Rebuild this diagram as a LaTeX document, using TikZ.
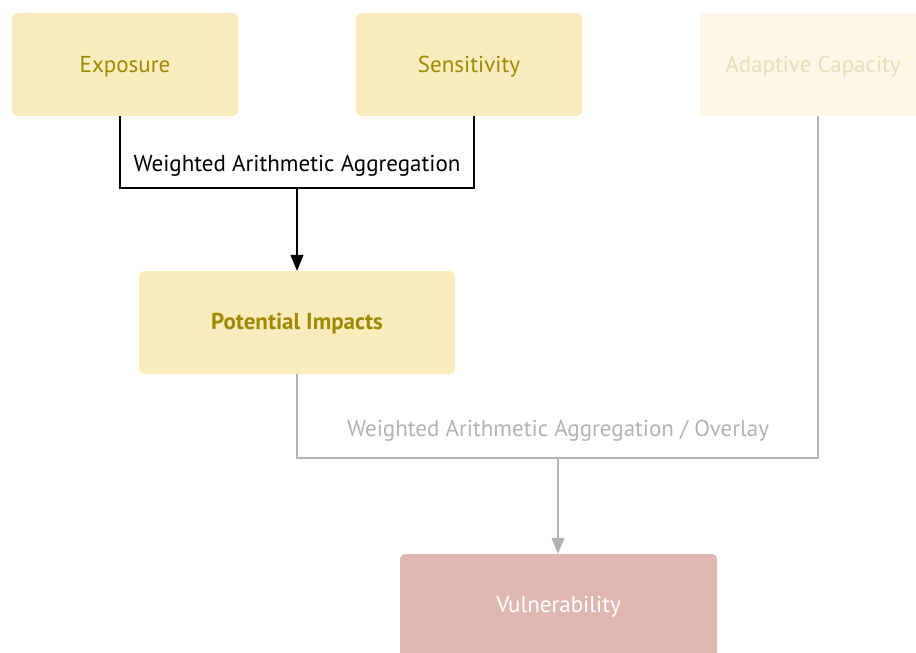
\documentclass[tikz,border=0pt]{standalone}
\usepackage{fontspec}
\setmainfont{PT Sans}
\usetikzlibrary{arrows.meta}
\definecolor{boxfill}{HTML}{FBECBE}
\definecolor{boxtext}{HTML}{9E8900}
\definecolor{palefill}{HTML}{FDF7E7}
\definecolor{paletext}{HTML}{E6E0B6}
\definecolor{vulnfill}{HTML}{DFB7B0}
\definecolor{greyline}{HTML}{B3B3B3}
\tikzset{
  lbl/.style={font=\fontsize{23}{26}\selectfont},
  box/.style={rounded corners=5pt, minimum width=226pt, minimum height=103pt, inner sep=0pt},
  link/.style={line width=1.1pt},
  tip/.style={-{Triangle[length=16pt,width=13pt]}},
}
\begin{document}
\begin{tikzpicture}[x=1pt,y=-1pt]
\useasboundingbox (0,0) rectangle (916,653);
\begin{scope}
\clip (0,0) rectangle (916,653);
\node[box, fill=boxfill] (exp) at (125,64.5) {};
\node[box, fill=boxfill] (sen) at (469,64.5) {};
\node[box, fill=palefill] (ada) at (813,64.5) {};
\node[box, fill=boxfill, minimum width=316pt] (pot) at (297,322.5) {};
\node[box, fill=vulnfill, minimum width=317pt, minimum height=106pt] (vul) at (558.5,607) {};
\node[lbl, text=boxtext] (exp-t) at ([yshift=-2pt]exp.center) {Exposure};
\node[lbl, text=boxtext] (sen-t) at ([yshift=-2pt]sen.center) {Sensitivity};
\node[lbl, text=paletext] (ada-t) at ([yshift=-2pt]ada.center) {Adaptive Capacity};
\node[lbl, text=boxtext, font=\fontsize{23}{26}\selectfont\bfseries] (pot-t) at ([yshift=-1pt]pot.center) {Potential Impacts};
\node[lbl, text=white] (vul-t) at (558.5,607) {Vulnerability};

\coordinate (j1) at (297,188);
\draw[link, black] ([xshift=-5pt]exp.south) |- (j1) -| ([xshift=5pt]sen.south);
\draw[link, black, tip] (j1) -- (pot.north);
\node[lbl, text=black] (l1) at (297,166) {Weighted Arithmetic Aggregation};

\coordinate (j2) at (558,458);
\draw[link, greyline] (pot.south) |- (j2) -| ([xshift=5pt]ada.south);
\draw[link, greyline, tip] (j2) -- (j2 |- vul.north);
\node[lbl, text=greyline] (l2) at (558,431) {Weighted Arithmetic Aggregation / Overlay};
\end{scope}
\end{tikzpicture}
\end{document}
